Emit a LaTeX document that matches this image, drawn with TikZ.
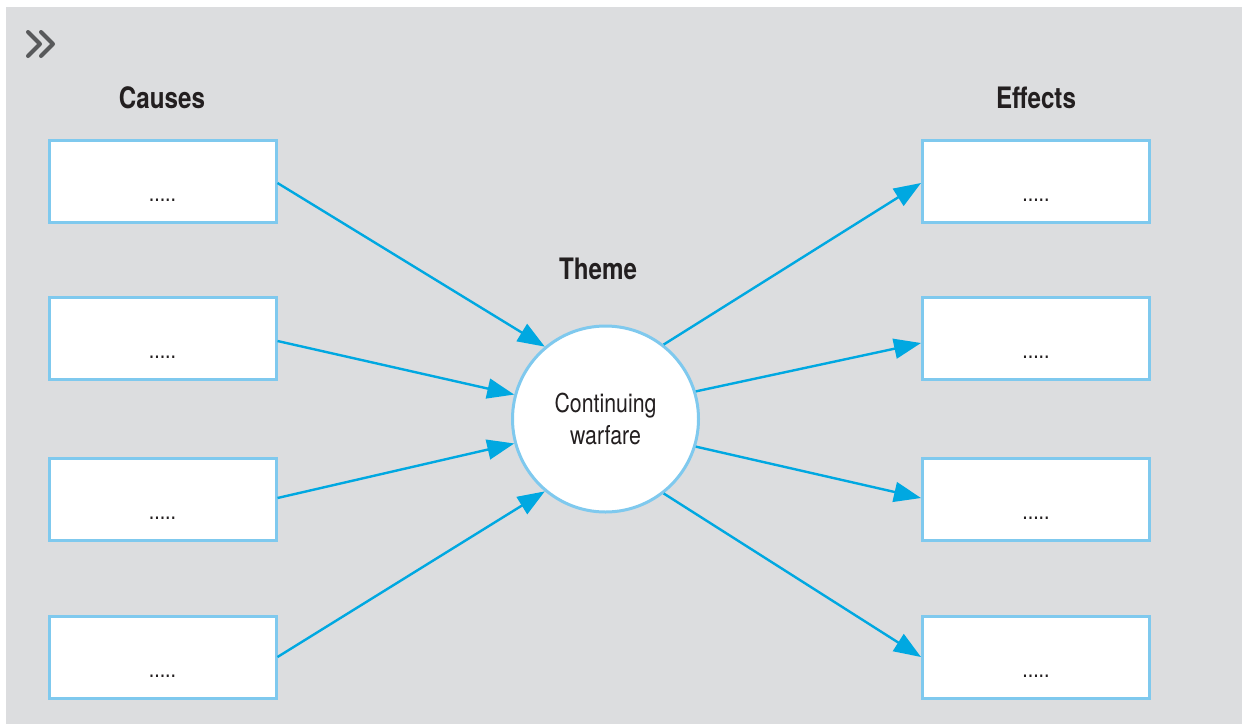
\documentclass[tikz,border=0pt]{standalone}
\usepackage{fontspec}
\setmainfont{TeX Gyre Heros}[FakeStretch=0.82]
\usetikzlibrary{arrows.meta}
\definecolor{bg}{HTML}{DCDDDF}
\definecolor{boxline}{HTML}{7FC9EE}
\definecolor{arr}{HTML}{00A8E1}
\definecolor{chev}{HTML}{58595B}
\definecolor{txt}{HTML}{231F20}
\begin{document}
\begin{tikzpicture}[x=1pt,y=-1pt,
  boxn/.style={draw=boxline,line width=3pt,fill=white,minimum width=227pt,minimum height=82pt,inner sep=0pt},
  head/.style={font=\fontsize{29.5}{29.5}\selectfont\bfseries,text=txt},
  dots/.style={font=\fontsize{24}{24}\selectfont,text=txt,inner sep=0pt},
  link/.style={draw=arr,line width=2.4pt,-{Triangle[length=27pt,width=20pt]}}]
\useasboundingbox (0,0) rectangle (1242,724);
\fill[bg] (6,7) rectangle (1242,724);
% chevron icon
\draw[chev,line width=4pt,line cap=round,line join=round] (28,32) -- (40,44) -- (28,56);
\draw[chev,line width=4pt,line cap=round,line join=round] (41,32) -- (53,44) -- (41,56);
% headings
\node[head] (hc) at (162,98) {Causes};
\node[head] (he) at (1036,98) {Effects};
\node[head] (ht) at (598,269) {Theme};
% boxes
\foreach \n/\y in {1/181,2/338,3/499,4/657}{
  \node[boxn] (l\n) at (162.5,\y) {};
  \node[boxn] (r\n) at (1036,\y) {};
  \node[dots] (dl\n) at (162.5,\y+19) {.....};
  \node[dots] (dr\n) at (1036,\y+19) {.....};
}
% circle
\node[circle,draw=boxline,line width=3pt,fill=white,minimum size=186pt,inner sep=0pt,align=center,
  font=\fontsize{26}{32}\selectfont,text=txt] (c) at (605.5,419) {Continuing\\warfare};
% arrows in
\draw[link] (l1.east |- 0,183) -- (c.130);
\draw[link] (l2.east |- 0,341) -- (c.165);
\draw[link] (l3.east |- 0,498) -- (c.195);
\draw[link] (l4.east |- 0,657) -- (c.230);
% arrows out
\draw[link] (c.52) -- (r1.west |- 0,183);
\draw[link] (c.17) -- (r2.west |- 0,343);
\draw[link] (c.-17) -- (r3.west |- 0,498);
\draw[link] (c.-52) -- (r4.west |- 0,657);
\end{tikzpicture}
\end{document}
